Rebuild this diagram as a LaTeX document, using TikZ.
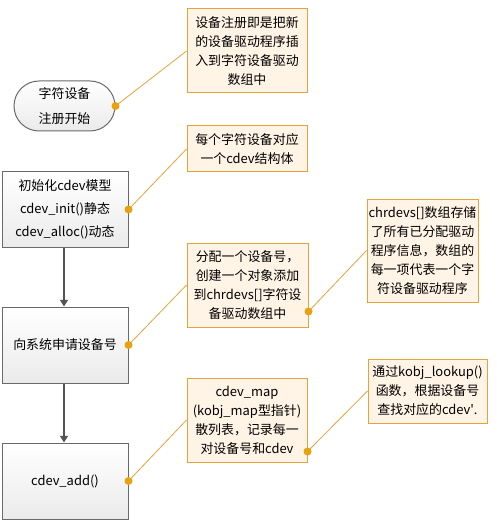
\documentclass[tikz,border=0pt]{standalone}
\usepackage{fontspec}
\setmainfont{Noto Sans CJK SC}
\usetikzlibrary{arrows.meta}
\definecolor{noteline}{HTML}{E6A23C}
\definecolor{notefill}{HTML}{FFF4E5}
\definecolor{dotfill}{HTML}{E8A20F}
\definecolor{boxline}{HTML}{6A6A6A}
\definecolor{flowarrow}{HTML}{555555}

\begin{document}
\begin{tikzpicture}[
  x=0.75pt,
  y=-0.75pt,
  every node/.style={font=\fontsize{9.7}{14.25}\selectfont, inner sep=0pt,
                     align=center, text=black},
  note/.style={draw=noteline, line width=0.75pt, fill=notefill},
  flowbox/.style={draw=boxline, line width=0.75pt, top color=white,
                  bottom color=black!8, minimum width=94.5pt},
  startbox/.style={flowbox, minimum width=75.75pt, minimum height=37.5pt,
                   rounded corners=18.75pt},
  flow/.style={flowarrow, line width=1.1pt,
               -{Triangle[length=5pt, width=6pt]}},
  link/.style={noteline, line width=0.6pt},
  linkdot/.style={fill=dotfill, draw=none}
]
  \useasboundingbox (0,0) rectangle (496,520);

  % ---- main flow, left column -----------------------------------------
  \node[startbox, font=\fontsize{9.7}{18.75}\selectfont] (start) at (64.5,106)
    {字符设备\\注册开始};
  \node[flowbox, minimum height=56.25pt, font=\fontsize{9.7}{17.25}\selectfont]
    (model) at (65,209.5)
    {初始化cdev模型\\cdev\_init()静态\\cdev\_alloc()动态};
  \node[flowbox, minimum height=57pt] (devno) at (65,345) {向系统申请设备号};
  \node[flowbox, minimum height=57pt] (add) at (65,481) {cdev\_add()};

  \draw[flow] (model.south -| 64,0) -- (devno.north -| 64,0);
  \draw[flow] (devno.south -| 64,0) -- (add.north -| 64,0);

  % ---- notes ------------------------------------------------------------
  \node[note, minimum width=90pt, minimum height=63pt] (regnote) at (247,51)
    {设备注册即是把新\\的设备驱动程序插\\入到字符设备驱动\\数组中};
  \node[note, minimum width=90pt, minimum height=34.5pt] (cdevnote) at (247,149)
    {每个字符设备对应\\一个cdev结构体};
  \node[note, minimum width=90.75pt, minimum height=63pt] (allocnote) at (247.5,285)
    {分配一个设备号，\\创建一个对象添加\\到chrdevs[]字符设\\备驱动数组中};
  \node[note, minimum width=83.25pt, minimum height=77.25pt] (chrnote) at (422.5,250.5)
    {chrdevs[]数组存储\\了所有已分配驱动\\程序信息，数组的\\每一项代表一个字\\符设备驱动程序};
  \node[note, minimum width=90pt, minimum height=63pt] (mapnote) at (247,420)
    {cdev\_map\\(kobj\_map型指针)\\散列表，记录每一\\对设备号和cdev};
  \node[note, minimum width=89.25pt, minimum height=48pt] (lookupnote) at (427.5,391)
    {通过kobj\_lookup()\\函数，根据设备号\\查找对应的cdev\textquotesingle.};

  % ---- links from the flow to its notes --------------------------------
  \coordinate (allocdot) at ([yshift=12pt]allocnote.south east);
  \coordinate (mapdot) at ([yshift=8.25pt]mapnote.south east);

  \draw[link] (start.east) -- (regnote.west);
  \draw[link] (model.east) -- (cdevnote.west);
  \draw[link] (devno.east) -- (allocnote.west);
  \draw[link] (allocdot) -- (chrnote.west);
  \draw[link] (add.east) -- (mapnote.west);
  \draw[link] (mapdot) -- (lookupnote.west);

  \foreach \d in {start.east, model.east, devno.east, add.east, allocdot, mapdot}
    \fill[linkdot] (\d) circle (3pt);
\end{tikzpicture}
\end{document}
